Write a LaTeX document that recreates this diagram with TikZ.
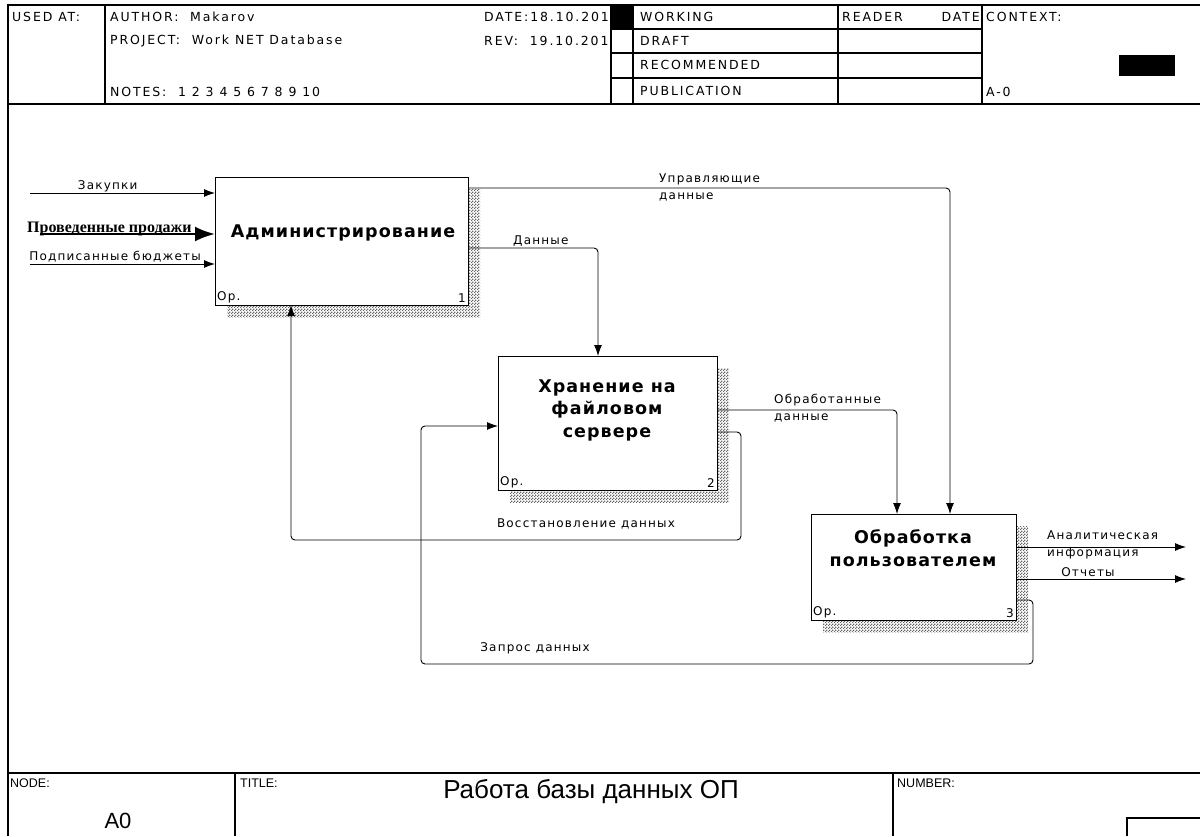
\documentclass[tikz,border=0pt]{standalone}
\usepackage{fontspec}
\setmainfont{DejaVu Sans}
\newfontfamily\idefFont[LetterSpace=10]{DejaVu Sans}
\newfontfamily\formFont[LetterSpace=15]{DejaVu Sans}
\newfontfamily\funcFont[LetterSpace=6]{DejaVu Sans}
\newfontfamily\sheetFont{Liberation Sans}
\newfontfamily\boldSerif{Liberation Serif}
\usetikzlibrary{arrows.meta, patterns, calc, positioning, backgrounds}

\pgfdeclarepatternformonly{idefchecker}{\pgfpointorigin}{\pgfqpoint{3pt}{3pt}}{\pgfqpoint{3pt}{3pt}}{%
  \pgfpathrectangle{\pgfpointorigin}{\pgfqpoint{1.5pt}{1.5pt}}%
  \pgfpathrectangle{\pgfqpoint{1.5pt}{1.5pt}}{\pgfqpoint{1.5pt}{1.5pt}}%
  \pgfusepath{fill}}

\tikzset{
  frame/.style={line width=1.1pt},
  func/.style={draw, fill=white, line width=1pt, inner sep=0pt, outer sep=0pt, anchor=north west},
  funcname/.style={font=\funcFont\bfseries\fontsize{17.5}{22.5}\selectfont, align=center, inner sep=0pt},
  boxmark/.style={font=\idefFont\fontsize{12}{13}\selectfont, inner sep=2pt},
  hatch/.style={pattern=idefchecker, pattern color=black!60},
  flow/.style={line width=0.9pt, rounded corners=4pt, -{Latex[length=11pt,width=8pt]}},
  arclabel/.style={font=\idefFont\fontsize{12}{17}\selectfont, inner sep=1pt},
  headtext/.style={font=\formFont\fontsize{12.5}{13}\selectfont, anchor=west, inner sep=0pt},
  foottext/.style={font=\sheetFont\fontsize{12.5}{14}\selectfont, anchor=west, inner sep=0pt}
}

\begin{document}
\begin{tikzpicture}[x=1pt, y=-1pt]
    \useasboundingbox (0,0) rectangle (1200,836);

    % sheet frame
    \draw[frame] (8,836) -- (8,5) -- (1200,5);
    \draw[frame] (8,104) -- (1200,104);
    \draw[frame] (8,773) -- (1200,773);
    \foreach \x in {105,611,633,838,982}
        \draw[frame] (\x,5) -- (\x,104);
    \foreach \y in {29,53,78}
        \draw[frame] (611,\y) -- (982,\y);
    \draw[frame] (235,773) -- (235,836);
    \draw[frame] (893,773) -- (893,836);
    \draw[frame] (1127,836) -- (1127,818) -- (1200,818);

    % header
    \node[headtext] (usedat) at (12,17) {USED AT:};
    \node[headtext] (author) at (110,17) {AUTHOR:~ Makarov};
    \node[headtext] (project) at (110,41) {PROJECT:~ Work NET Database};
    \node[headtext] (notes) at (110,92) {NOTES:~ 1 2 3 4 5 6 7 8 9 10};
    \begin{scope}
        \clip (470,5) rectangle (610,60);
        \node[headtext] (date) at (484,17) {DATE:18.10.2010};
        \node[headtext] (rev) at (484,41) {REV:~ 19.10.2010};
    \end{scope}
    \fill[black] (611,5) rectangle (633,29);
    \node[headtext] (working) at (640,17) {WORKING};
    \node[headtext] (draft) at (640,41) {DRAFT};
    \node[headtext] (recommended) at (640,65) {RECOMMENDED};
    \node[headtext] (publication) at (640,91) {PUBLICATION};
    \node[headtext] (reader) at (842,17) {READER};
    \node[headtext, anchor=east] (rdate) at (980,17) {DATE};
    \node[headtext] (context) at (986,17) {CONTEXT:};
    \fill[black] (1119,55) rectangle (1175,76);
    \node[headtext] (ctxnode) at (986,92) {A-0};

    % footer
    \node[foottext] (nodelbl) at (10,783) {NODE:};
    \node[foottext] (titlelbl) at (240,783) {TITLE:};
    \node[foottext] (numberlbl) at (897,783) {NUMBER:};
    \node[font=\sheetFont\fontsize{26}{28}\selectfont, inner sep=0pt] (sheettitle) at (591,792) {Работа базы данных ОП};
    \node[font=\sheetFont\fontsize{22}{24}\selectfont, inner sep=0pt] (sheetnode) at (118,821) {A0};

    % functions
    \node[func, minimum width=253pt, minimum height=128pt] (adm) at (215,177) {};
    \node[func, minimum width=219pt, minimum height=134pt] (stor) at (498,356) {};
    \node[func, minimum width=205pt, minimum height=106pt] (proc) at (811,514) {};
    \begin{scope}[on background layer]
        \fill[white] (0,0) rectangle (1200,836);
        \foreach \b in {adm,stor,proc}
            \fill[hatch] ($(\b.north west)+(12,12)$) rectangle ($(\b.south east)+(12,12)$);
    \end{scope}

    \node[funcname] (admname) at (343,233) {Администрирование};
    \node[funcname] (storname) at (607,410) {Хранение на\\файловом\\ сервере};
    \node[funcname] (procname) at (913,548) {Обработка\\пользователем};
    \foreach \b/\n in {adm/1,stor/2,proc/3}
    {
        \node[boxmark, anchor=south west] at (\b.south west) {Ор.};
        \node[boxmark, anchor=south east] at (\b.south east) {\n};
    }

    % inputs
    \coordinate (in1) at (30,193);
    \coordinate (in2) at (40,234);
    \coordinate (in3) at (30,264);
    \draw[flow] (in1) -- node[arclabel, pos=0.42, above] {Закупки} (in1 -| adm.west);
    \draw[line width=2.6pt, -{Latex[length=20pt,width=15pt]}] (in2) -- (in2 -| adm.west);
    \node[font=\boldSerif\bfseries\fontsize{16}{18}\selectfont, anchor=base west, inner sep=0pt] (sales) at (27,232) {Проведенные продажи};
    \draw[flow] (in3) -- node[arclabel, pos=0.46, above] {Подписанные бюджеты} (in3 -| adm.west);

    % control and data arcs
    \coordinate (ctl) at (950,188);
    \draw[flow] (adm.east |- ctl) -- (ctl) -- (ctl |- proc.north);
    \node[arclabel, anchor=west, align=left] (ctllbl) at (658,187) {Управляющие\\данные};

    \coordinate (dat) at (598,248);
    \draw[flow] (adm.east |- dat) -- (dat) -- (dat |- stor.north);
    \node[arclabel, anchor=south west] (datlbl) at (512,248) {Данные};

    \coordinate (done) at (897,410);
    \draw[flow] (stor.east |- done) -- (done) -- (done |- proc.north);
    \node[arclabel, anchor=west, align=left] (donelbl) at (773,408) {Обработанные\\данные};

    % feedback arcs
    \coordinate (rec1) at (741,432);
    \coordinate (rec2) at (291,540);
    \draw[flow] (stor.east |- rec1) -- (rec1) -- (rec1 |- rec2) -- (rec2) -- (rec2 |- adm.south);
    \node[arclabel] (reclbl) at (586,524) {Восстановление данных};

    \coordinate (req1) at (1033,600);
    \coordinate (req2) at (421,664);
    \coordinate (req3) at (421,426);
    \draw[flow] (proc.east |- req1) -- (req1) -- (req1 |- req2) -- (req2) -- (req3) -- (req3 -| stor.west);
    \node[arclabel] (reqlbl) at (535,648) {Запрос данных};

    % outputs
    \coordinate (out1) at (1186,547);
    \coordinate (out2) at (1186,579);
    \draw[flow] (proc.east |- out1) -- (out1);
    \draw[flow] (proc.east |- out2) -- (out2);
    \node[arclabel, anchor=west, align=left] (out1lbl) at (1046,545) {Аналитическая\\информация};
    \node[arclabel, anchor=south] (out2lbl) at (1088,578) {Отчеты};
\end{tikzpicture}
\end{document}
